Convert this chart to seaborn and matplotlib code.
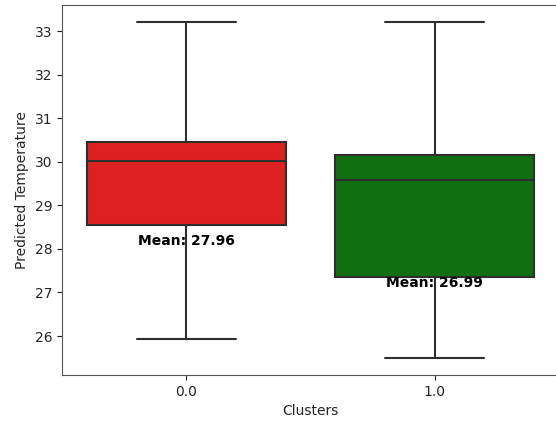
import matplotlib
matplotlib.use("Agg")
import matplotlib.pyplot as plt
import seaborn as sns
import pandas as pd

# Five-number summaries of predicted temperature per cluster
clusters = [0.0, 1.0]
whisker_low = [25.93, 25.50]
q1 = [28.55, 27.35]
median = [30.02, 29.58]
q3 = [30.45, 30.15]
whisker_high = [33.20, 33.20]
means = [27.96, 26.99]
palette = ["red", "green"]

stats = pd.DataFrame({
    "Clusters": [str(c) for c in clusters],
    "low": whisker_low, "q1": q1, "med": median, "q3": q3, "high": whisker_high,
})

# Sample per cluster whose interpolated quartiles and extremes reproduce the summary
rows = []
for _, r in stats.iterrows():
    sample = [r.low] + [r.q1] * 2 + [r.med] * 2 + [r.q3] * 2 + [r.high]
    for v in sample:
        rows.append({"Clusters": r.Clusters, "Predicted Temperature": v})
df = pd.DataFrame(rows)

sns.set_style("ticks")
fig = plt.figure(figsize=(5.56, 4.21), dpi=100)
ax = fig.add_axes([62 / 556, 1 - 375 / 421, 497 / 556, 370 / 421])

sns.boxplot(data=df, x="Clusters", y="Predicted Temperature", hue="Clusters",
            palette=palette, legend=False, ax=ax, width=0.8,
            linecolor="#2e2e2e", linewidth=1.5)

for i, m in enumerate(means):
    ax.text(i, m + 0.07, f"Mean: {m:.2f}", ha="center", va="bottom",
            fontsize=10, fontweight="bold", color="black")

for side in ["top", "bottom", "left", "right"]:
    ax.spines[side].set_visible(True)
    ax.spines[side].set_color("#555555")

ax.set_ylim(25.105, 33.6)
ax.set_xlim(-0.5, 1.5)
ax.set_xlabel("Clusters", fontsize=10)
ax.set_ylabel("Predicted Temperature", fontsize=10)

fig.savefig("out.png", dpi=100)
